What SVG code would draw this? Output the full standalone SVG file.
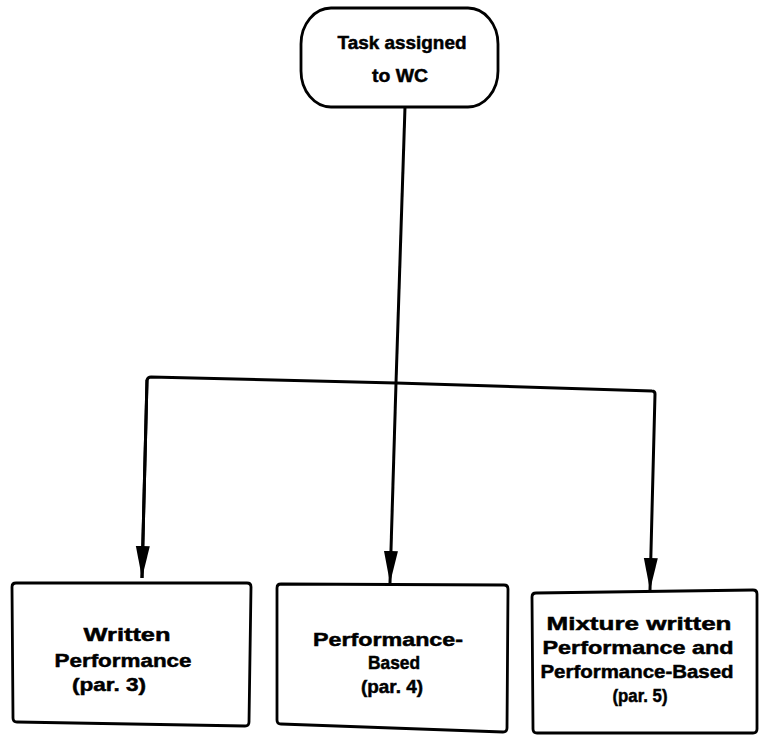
<svg xmlns="http://www.w3.org/2000/svg" width="760" height="738" viewBox="0 0 760 738">
  <style>
    .shape { fill: #ffffff; stroke: #000000; stroke-width: 2.8; }
    .wire { fill: none; stroke: #000000; stroke-width: 3; stroke-linejoin: round; }
    .label { font-family: "Liberation Sans", Arial, sans-serif; font-weight: bold; font-size: 19px; fill: #000000; stroke: #000000; stroke-width: 0.5; text-anchor: middle; }
  </style>
  <defs>
    <marker id="dart" markerUnits="userSpaceOnUse" markerWidth="34" markerHeight="16" refX="32" refY="8" orient="auto" viewBox="0 0 34 16">
      <polygon points="0,1 32,8 0,15" fill="#000000"/>
    </marker>
  </defs>
  <rect width="760" height="738" fill="#ffffff"/>

  <!-- connectors -->
  <g id="connectors">
    <path class="wire" d="M405,107 L396,383"/>
    <path class="wire" d="M396,383 L390,583" marker-end="url(#dart)"/>
    <path class="wire" d="M142,578 L147,380 Q148,377 151,377 L396,383 L652,391 Q655,391 655,394 L650,590" marker-end="url(#dart)"/>
    <path class="wire" d="M147,380 L142,578" marker-end="url(#dart)"/>
  </g>

  <!-- start node -->
  <g id="task-assigned">
    <rect class="shape" x="301" y="8" width="197" height="99" rx="30" ry="36"/>
    <text class="label" x="402" y="49" textLength="129" lengthAdjust="spacingAndGlyphs">Task assigned</text>
    <text class="label" x="400" y="82" textLength="56" lengthAdjust="spacingAndGlyphs">to WC</text>
  </g>

  <!-- outcome boxes -->
  <g id="written-performance">
    <path class="shape" d="M16,583 L247,583 Q251,583 251,587 L249,722 Q249,726 245,726 L17,722 Q13,722 13,718 L12,587 Q12,583 16,583 Z"/>
    <text class="label" x="127" y="641" textLength="87" lengthAdjust="spacingAndGlyphs">Written</text>
    <text class="label" x="123" y="667" textLength="137" lengthAdjust="spacingAndGlyphs">Performance</text>
    <text class="label" x="109" y="691" textLength="74" lengthAdjust="spacingAndGlyphs">(par. 3)</text>
  </g>

  <g id="performance-based">
    <path class="shape" d="M281,584 L504,585 Q508,585 508,589 L507,728 Q507,732 503,732 L281,724 Q277,724 277,720 L277,588 Q277,584 281,584 Z"/>
    <text class="label" x="388" y="646" textLength="150" lengthAdjust="spacingAndGlyphs">Performance-</text>
    <text class="label" x="394" y="669" textLength="52" lengthAdjust="spacingAndGlyphs">Based</text>
    <text class="label" x="392" y="693" textLength="62" lengthAdjust="spacingAndGlyphs">(par. 4)</text>
  </g>

  <g id="mixture">
    <path class="shape" d="M536,593 L753,590 Q757,590 757,594 L757,729 Q757,733 753,733 L537,733 Q533,733 533,729 L532,597 Q532,593 536,593 Z"/>
    <text class="label" x="639" y="630" textLength="185" lengthAdjust="spacingAndGlyphs">Mixture written</text>
    <text class="label" x="638" y="654" textLength="191" lengthAdjust="spacingAndGlyphs">Performance and</text>
    <text class="label" x="637" y="678" textLength="193" lengthAdjust="spacingAndGlyphs">Performance-Based</text>
    <text class="label" x="640" y="702" textLength="55" lengthAdjust="spacingAndGlyphs">(par. 5)</text>
  </g>
</svg>
